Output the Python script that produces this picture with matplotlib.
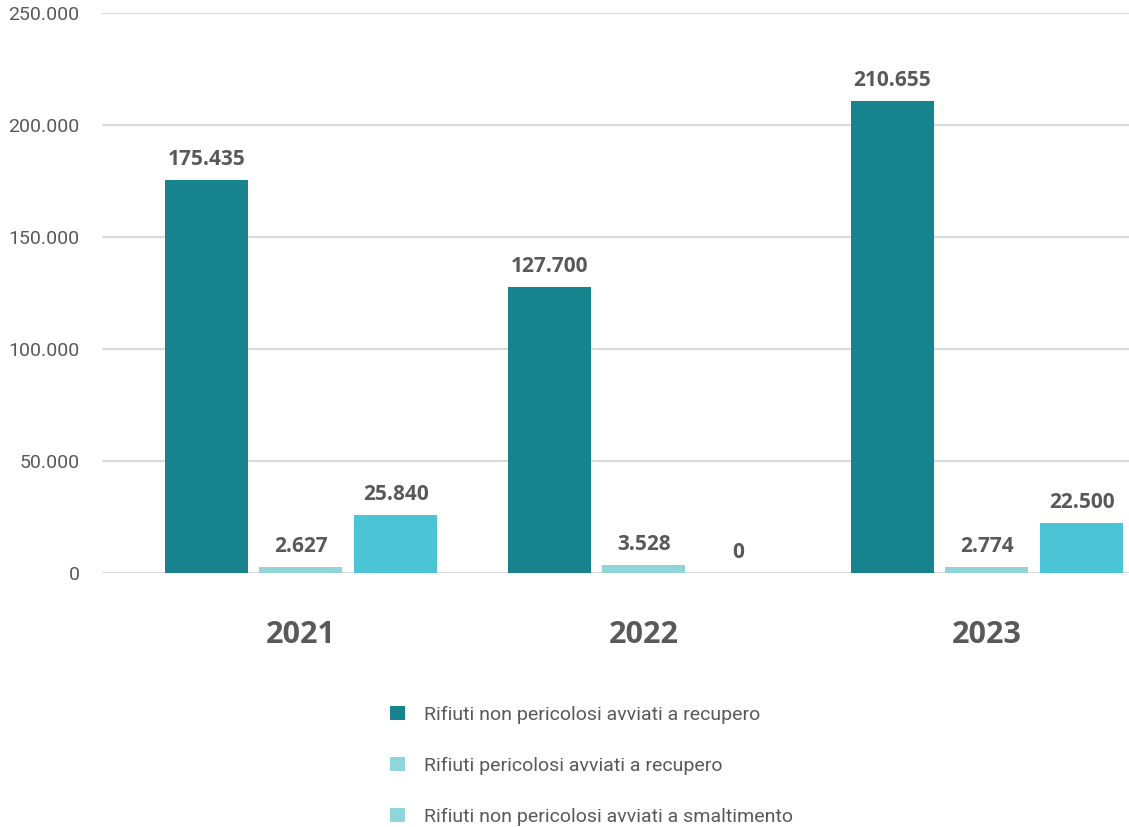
import numpy as np
import matplotlib
matplotlib.use("Agg")
import matplotlib.pyplot as plt
from matplotlib.patches import Patch
from matplotlib.ticker import FuncFormatter

years = ["2021", "2022", "2023"]
series_names = [
    "Rifiuti non pericolosi avviati a recupero",
    "Rifiuti pericolosi avviati a recupero",
    "Rifiuti non pericolosi avviati a smaltimento",
]
non_hazardous_recovery = [175435, 127700, 210655]
hazardous_recovery = [2627, 3528, 2774]
non_hazardous_disposal = [25840, 0, 22500]

bar_colors = ["#17838F", "#8FD5DA", "#4BC4D5"]
legend_colors = ["#17838F", "#8FD5DA", "#8FD5DA"]
text_grey = "#595959"


def it_fmt(v):
    # thousands separated with a dot, Italian style
    return f"{int(round(v)):,}".replace(",", ".")


fig = plt.figure(figsize=(11.29, 8.27), dpi=100)
ax = fig.add_axes([0.0903, 0.3071, 0.9097, 0.6772])

x = np.arange(len(years))
width = 0.242
step = 0.276
all_series = [non_hazardous_recovery, hazardous_recovery, non_hazardous_disposal]

for i, vals in enumerate(all_series):
    pos = x + (i - 1) * step
    ax.bar(pos, vals, width=width, color=bar_colors[i], zorder=3)
    for px, v in zip(pos, vals):
        ax.annotate(it_fmt(v), (px, v), xytext=(0, 7), textcoords="offset points",
                    ha="center", va="bottom", fontsize=15, fontweight="bold",
                    family="Open Sans", color=text_grey)

ax.set_xlim(-0.58, 2.414)
ax.set_ylim(0, 250000)
ax.set_yticks(np.arange(0, 250001, 50000))
ax.yaxis.set_major_formatter(FuncFormatter(lambda v, p: it_fmt(v)))
ax.grid(axis="y", color="#D9D9D9", linewidth=1.5, zorder=0)
for s in ax.spines.values():
    s.set_visible(False)
ax.tick_params(axis="y", length=0, pad=16, labelsize=14, labelcolor=text_grey)
for lbl in ax.get_yticklabels():
    lbl.set_family("Roboto")
ax.set_xticks(x)
ax.set_xticklabels(years, fontsize=22, fontweight="bold", family="Open Sans",
                   color=text_grey)
ax.tick_params(axis="x", length=0, pad=34)

handles = [Patch(facecolor=c, edgecolor="none") for c in legend_colors]
leg = fig.legend(handles, series_names, loc="upper left",
                 bbox_to_anchor=(0.33, 0.168), frameon=False,
                 prop={"family": "Roboto", "size": 14},
                 labelspacing=1.7, handlelength=0.75, handleheight=0.75,
                 handletextpad=1.0)
for t in leg.get_texts():
    t.set_color(text_grey)

fig.savefig("out.png", dpi=100, facecolor="white")
